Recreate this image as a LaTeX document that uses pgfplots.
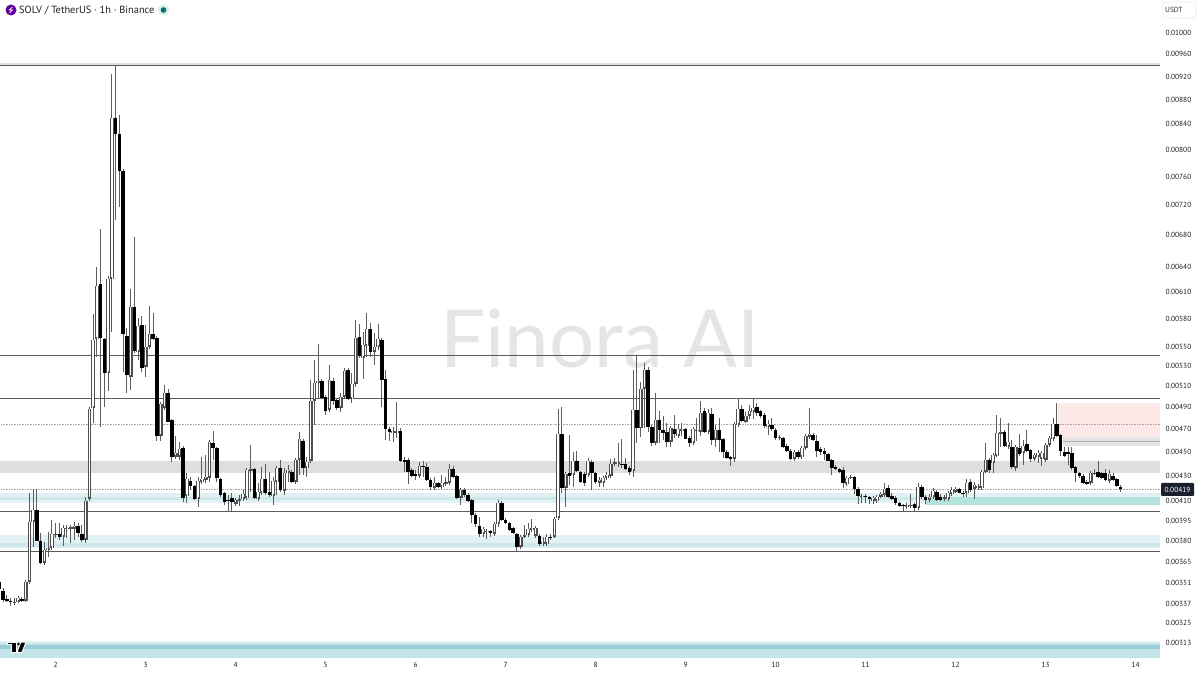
\documentclass[border=0pt]{standalone}
\usepackage{fontspec}
\setmainfont{PT Sans}
\newfontfamily\wmfont{Lato}
\usepackage{xcolor}
\usepackage{pgfplots}
\usepackage{pgfplotstable}
\pgfplotsset{compat=1.18}

\definecolor{wick}{HTML}{5E5E5E}
\definecolor{edge}{HTML}{505050}
\definecolor{lvl}{HTML}{5A5A5A}
\definecolor{dots}{HTML}{A8A8A8}
\definecolor{zoneGray}{HTML}{DEDEE0}
\definecolor{zoneA}{HTML}{E2F1F3}
\definecolor{zoneB}{HTML}{CDE7EB}
\definecolor{zoneC}{HTML}{C4E4E9}
\definecolor{zoneD}{HTML}{98CFD7}
\definecolor{zoneE}{HTML}{DDF0F2}
\definecolor{zoneGreen}{HTML}{B4E2DC}
\definecolor{zonePink}{HTML}{FDE8E8}
\definecolor{zoneGrayB}{HTML}{E4E4E6}
\definecolor{tagDark}{HTML}{1A1F2E}
\definecolor{wmark}{HTML}{E5E5E5}

% hour index (0 = start of day 2), prices in 1e-5 USDT
\pgfplotstableread{
x o h l c
-15 351 352 344 346
-14 345 347 338 339
-13 339.7 342.5 337.5 338.5
-12 338.7 340.4 335 337.6
-11 336.8 340.4 335.5 338
-10 338 341.5 337.5 340.2
-9 339.6 341 338 338.7
-8 338.7 351.5 338 350.9
-7 350.8 415.7 350.5 393.6
-6 393.6 418.9 375 402.5
-5 402.5 418.9 379 379.6
-4 379.6 385.5 363 363.9
-3 364 378.9 362.4 373
-2 373 386.2 368.3 374.2
-1 374.4 394.9 374 384.6
0 384 392.7 381.6 384.6
1 384.6 392.7 380 382.6
2 382 391.2 375.8 388.8
3 388 391.2 381.6 388.8
4 388.5 391.2 378.2 389.5
5 388.5 393.6 380 390.7
6 390 392.7 382.6 385.5
7 384.6 391.2 378.9 380.1
8 380.1 412.3 378.2 409.7
9 410.8 488.5 410.2 487.8
10 489 584.5 475 556.3
11 557 639.2 538.9 616.5
12 618.5 687.2 471.7 558.8
13 557 558.4 490 522
14 522.7 628.4 504.8 624.4
15 624.4 923.3 565 848.5
16 848.5 937.4 699 823.5
17 823.5 853.8 717 768
18 768 770 523.7 562.7
19 560.4 569.2 503 520.4
20 518.8 613 505.8 592.6
21 592.6 677 542.7 545
22 544 580 535.5 571.6
23 572.4 582 523 527
24 528.7 572.4 518.7 548.4
25 548.7 593.5 548 562.7
26 562.7 586 556.3 557.4
27 558.8 560 459 463.6
28 463.6 493.4 459 492.5
29 488.5 510.6 487 503.2
30 503.2 506.8 476 476.2
31 477.4 478.6 441 445
32 445 463.6 444 448.4
33 445.5 458.3 442.7 452
34 453 454.6 408.9 411.5
35 413.4 431.8 407.9 426.7
36 425.3 428.5 418.1 421.3
37 421.3 422 410.2 410.7
38 410.7 428.5 404.8 425.3
39 424.7 445.5 423.7 426.7
40 426 447 423.7 428.8
41 428 459.8 424.7 458.3
42 457.5 467.8 442.7 452.7
43 452.7 453.8 424.7 427.5
44 426.7 427.3 412.6 414.1
45 415.5 416.8 406.3 408.4
46 410 414 401.2 409.4
47 411.5 415.5 402 408.9
48 406.9 411.5 405.8 410.2
49 409.4 414 405.8 410.7
50 410.7 418.1 410.2 414.7
51 411.5 435 410.6 434.3
52 433.5 455.4 416.8 434.9
53 434.9 435.5 411 411.5
54 411 423.7 410.2 416.8
55 416 437 414.1 426.7
56 426.7 439.3 414.1 415.5
57 416.8 433 412.8 414.1
58 413.4 428.8 406.3 425.5
59 424.7 437.7 414.1 436
60 436 442.7 416.8 418.1
61 417.5 435.7 414.1 432
62 432 438.5 424.7 434.3
63 432.7 434.3 423.7 424.7
64 424.2 444 422.9 442.7
65 442.7 466.6 430.2 460.4
66 459.2 460.7 430.2 436.2
67 436.2 445.5 428.8 441.3
68 442 515.5 441.3 495.3
69 495.5 535.5 473.2 512.2
70 512.2 552 497 514.5
71 514.5 516.5 497 498.4
72 499.3 501 482.3 486.2
73 487 530.4 486 515.5
74 514.5 517.5 491.5 495.3
75 496.2 498 487 488.5
76 488.5 502.6 485.3 498.8
77 498.8 527 498 524.7
78 525.4 527.4 496.2 497
79 497 522 493 511.2
80 511.2 577.9 508.7 558
81 559.2 573.4 537.6 539
82 537.9 565 516.5 551
83 550.3 586 538.3 568
84 568 575 538.3 544
85 543.4 563.7 530.4 549.3
86 548.6 573.4 545.8 557
87 556.3 558.4 489.7 515.5
88 516.2 525.4 459.8 469.3
89 469.3 471.7 459.2 467.2
90 465.8 471.7 458.3 467.8
91 465.8 494.6 461.5 468
92 467.8 470.5 441 442
93 442.7 445.5 433 441.3
94 442.7 444 422.9 433
95 434.3 435.7 428.5 429.4
96 431 434.3 426.1 429.4
97 429.4 441.3 428.8 437.7
98 437.7 442 428.8 436.6
99 437 440 425.3 426.1
100 426.1 427.7 418.1 420.3
101 420 428.3 418.1 423.4
102 423.4 424.7 419.4 420.7
103 420.7 430.2 420 423.9
104 423.2 428.5 421.3 424.3
105 423.4 439.3 422.9 435
106 435.4 437.7 428 428.8
107 429.4 430.2 411 411.5
108 411.5 418.9 406.3 418.1
109 418.1 419.7 412.8 414.1
110 414.1 415.5 408.7 409.7
111 410.2 411 392.9 398.7
112 398.7 400.4 389.9 391.7
113 390.7 397.4 382.6 384.6
114 384.4 389.9 382.6 388
115 385.6 387.5 380.8 386.5
116 386.5 387.5 382 385.5
117 384.6 392.9 383.8 392
118 391.7 410.2 389.9 408
119 407.6 409.4 394.2 394.9
120 394.9 396 391.7 392.4
121 392.4 393.4 386.8 387.5
122 388.8 389.7 384.8 385.5
123 384.6 385.3 371.8 374.9
124 375.3 383.8 374.2 382.6
125 382.6 391.2 381.4 383.8
126 383.8 392.4 383 388
127 387.5 395.6 386.2 388.8
128 383.3 389.9 382.3 388.8
129 383.3 384.6 375.8 377
130 377.1 382.6 375.4 378.9
131 377.1 384.6 375.4 382.6
132 382.6 384.6 380.1 381.4
133 382.6 396.4 381.6 395.6
134 396.6 487.8 395.6 465
135 465 489.4 415.7 419.5
136 419.5 431.8 405 431
137 431.5 464.3 422 429.4
138 430.2 449 420.7 442
139 442 450 432.7 433.7
140 432.7 433.7 423.7 424.7
141 430.8 432.7 421.3 423.9
142 430.2 444 429.4 442
143 440.5 442.7 418.1 432
144 431.5 432.7 422.9 424.7
145 424 428.3 420.7 426.1
146 424 428.8 420.2 427.7
147 428 432.7 426.1 430.2
148 429.4 443.3 428.5 439
149 439 444 438.5 440.5
150 439.3 457.5 437 440.5
151 439.3 460.7 435.7 438.5
152 439.3 444.6 434.3 435
153 435.7 437.7 430.2 433
154 433.7 525.4 428.5 487
155 487 539.9 457.5 470
156 470 513.8 462.7 506.5
157 506.5 532.7 470.5 525.4
158 525.4 528.7 467 471
159 471 473.2 454.6 457.5
160 456.9 502.6 456 477.7
161 477.7 486.3 457.5 468.7
162 468.7 481.3 459.8 466.3
163 467.2 475.3 454 458.3
164 458.3 472 453.5 470.2
165 469.3 482.3 461.3 465.1
166 463.4 473.8 462.2 469.3
167 468 474.7 463.4 469.3
168 469.3 470.2 460.4 460.7
169 461.8 463.4 454 457.5
170 457 471 456.4 469.3
171 467.8 479.2 459.2 468.7
172 467.2 495.5 463.4 484.4
173 486 488.5 466 466.6
174 466.6 487.5 466 483.8
175 483.2 488.5 455.5 459.8
176 459.8 473.2 453.5 468.7
177 468.7 479.2 449.7 459.8
178 460.4 461.5 444 449
179 449.7 451.2 443.1 444.1
180 445 446 437.7 443.3
181 443.3 474.6 441.3 473.7
182 473.2 496.9 471 487.5
183 487.5 491.5 476 477
184 476.2 485 475.3 481.6
185 481.3 491.5 478.6 486
186 485.3 496.9 478.3 488.5
187 489.4 493 481.3 484.4
188 486 487 479.5 481.6
189 482.3 484.1 470.5 472
190 471 477.7 464.3 473.8
191 473.5 479.2 467.8 469.3
192 468.7 470.5 459.8 461.3
193 461.3 464.3 459.8 462.7
194 461.3 462.4 452.5 453.5
195 454.6 456.4 449.5 450.3
196 450.3 451.6 442.7 443.5
197 443.5 450.3 442.7 449.3
198 449.3 450.8 443.5 445.5
199 445 454.6 444 453
200 452.7 464.5 451.8 463.4
201 462.2 488.5 461.3 465
202 463.9 465.8 459 459.8
203 459.2 464.3 445.5 450.6
204 451.8 453.8 447 449.7
205 450.3 452.7 442.7 447.8
206 447.5 448.7 441.4 442
207 442.7 443.5 430.2 436.2
208 437 438 434.3 434.9
209 434.9 436 431.4 432.4
210 434.3 437 419.4 423.4
211 422.7 428.8 422 428
212 428.3 429.4 427.3 428.8
213 428.8 429.4 415 418.6
214 418.9 420.3 407.1 413.4
215 412.4 414.9 407.6 413.4
216 413.4 414.9 408.1 412.4
217 412.3 413.4 407.1 410.7
218 409.4 412.8 407.1 411.5
219 409.7 414.1 408.1 412.8
220 412.8 416.8 411.7 414.9
221 414.1 423.9 413.4 418.9
222 419.5 422 411.7 412.8
223 413.4 415.5 409.8 411
224 412 413 406.3 407.6
225 407.6 408.9 405 405.8
226 406.3 407.3 401.2 405.3
227 405 408.1 404.3 406.3
228 405.3 414.9 404.3 406.3
229 406.9 407.9 402 403.8
230 403.8 423.9 402.5 420.2
231 420.5 422 411 412.8
232 412.3 414.1 407.1 410.2
233 410.2 414.9 409.4 412.8
234 412.3 419.4 411 417.3
235 416.8 418.1 409.4 410.2
236 412.8 414.9 409.4 410.2
237 411.2 414.1 410.2 412.3
238 411.2 417.3 410.2 415.5
239 415 420.3 414.1 418.1
240 416.8 420.7 416 418.6
241 418.6 419.7 415.3 416
242 416 417.3 412.3 415
243 415.5 426.7 412.3 423.9
244 424.7 426.7 416.5 418.1
245 418.6 424.5 410.7 422
246 419.5 422.9 418.5 421.3
247 419.5 434.3 418.5 433
248 433 457.5 432 442.7
249 442.7 444 432 434.3
250 440 448.2 432 447
251 446.4 482.3 446 465.8
252 465 479.2 454 467.2
253 467.2 468.7 453.5 454.6
254 454 475.3 453 458.3
255 453.5 459.8 434.9 436.6
256 435.7 454.6 433.7 453.5
257 453 465 446 447.8
258 448.4 459.8 438.5 454.6
259 456.4 468.7 449 450.3
260 451.2 452 441.3 443.3
261 443.5 448.7 442.7 447
262 445.5 451.2 440 448.4
263 443.5 449.5 437.7 448.4
264 442.7 457.2 440.5 455.5
265 455.5 462.4 454.6 461.3
266 460.4 479.2 459.8 473.8
267 473.8 493 462.4 463.4
268 464.3 465 446 450.6
269 449.7 454 445 446.3
270 449.2 453.5 438.5 447.5
271 448.4 453.5 434.3 435.7
272 436.6 437.7 424.7 431.6
273 431.6 433 427.5 429.4
274 429.6 430.6 422.9 423.9
275 424.7 425.7 422 422.9
276 423.4 433.4 422.9 432
277 431.6 434.9 430.6 432
278 433 441.9 427.3 428.3
279 431.6 433 426.9 428
280 431.6 434.9 425.3 426.1
281 425.5 434.3 423.4 431
282 429.4 431.6 424.9 426.1
283 426.7 428 420.5 421.3
284 420.3 422 416.8 418.6
}\candles

\pgfplotsset{
  candlebar/.style={draw=none, mark=none, forget plot,
    error bars/y dir=both, error bars/y explicit, error bars/error mark=none},
  upOnly/.style={x filter/.expression={\thisrow{c}>=\thisrow{o} ? x : nan}},
  downOnly/.style={x filter/.expression={\thisrow{c}<\thisrow{o} ? x : nan}},
}

\begin{document}
\begin{tikzpicture}[x=1pt,y=1pt]
\useasboundingbox (0,0) rectangle (1200,675);
\fill[white] (0,0) rectangle (1200,675);

% watermark
\node[anchor=center, text=wmark, inner sep=0pt] at (600,336)
  {\wmfont\fontsize{80}{90}\selectfont Finora AI};

\begin{axis}[
  at={(0pt,17pt)}, anchor=south west,
  scale only axis, width=1160pt, height=658pt,
  xmin=-14.85, xmax=294.48,
  ymode=log, ymin=303.6, ymax=1062.8,
  axis line style={draw=none},
  major tick length=0pt,
  minor tick num=0,
  ytick pos=right, yticklabel pos=right,
  xtick={0,24,...,288},
  xticklabels={2,3,4,5,6,7,8,9,10,11,12,13,14},
  ytick={1000,960,920,880,840,800,760,720,680,640,610,580,550,530,510,490,470,450,430,410,395,380,365,351,337,325,313},
  yticklabels={0.01000,0.00960,0.00920,0.00880,0.00840,0.00800,0.00760,0.00720,0.00680,0.00640,0.00610,0.00580,0.00550,0.00530,0.00510,0.00490,0.00470,0.00450,0.00430,0.00410,0.00395,0.00380,0.00365,0.00351,0.00337,0.00325,0.00313},
  yticklabel style={font=\fontsize{7.4}{8}\selectfont, anchor=west, xshift=2pt, yshift=-0.7pt, text=black!88},
  xticklabel style={font=\fontsize{7.4}{8}\selectfont, anchor=center, yshift=-7pt, text=black!88},
]

% zones
\addplot[draw=none, fill=zoneGray] coordinates {(-15,441.8)(295,441.8)(295,431.8)(-15,431.8)};
\addplot[draw=none, fill=zoneA] coordinates {(-15,415.7)(295,415.7)(295,407.5)(-15,407.5)};
\addplot[draw=none, fill=zoneB] coordinates {(-15,412.8)(295,412.8)(295,410.2)(-15,410.2)};
\addplot[draw=none, fill=zoneA] coordinates {(-15,383.8)(295,383.8)(295,374.4)(-15,374.4)};
\addplot[draw=none, fill=zoneB] coordinates {(-15,377.9)(295,377.9)(295,374.8)(-15,374.8)};
\addplot[draw=none, fill=zoneE] coordinates {(-15,313.8)(295,313.8)(295,312.6)(-15,312.6)};
\addplot[draw=none, fill=zoneC] coordinates {(-15,312.6)(295,312.6)(295,303.6)(-15,303.6)};
\addplot[draw=none, fill=zoneD] coordinates {(-15,311.2)(295,311.2)(295,308.7)(-15,308.7)};
\addplot[draw=none, fill=zoneGreen] coordinates {(231.8,412.3)(295,412.3)(295,406.3)(231.8,406.3)};
\addplot[draw=none, fill=zonePink] coordinates {(267.3,493.4)(295,493.4)(295,462.2)(267.3,462.2)};
\addplot[draw=none, fill=zoneGrayB] coordinates {(268.5,462.2)(295,462.2)(295,454.6)(268.5,454.6)};
\addplot[gray!60, line width=0.6pt] coordinates {(268.5,458.3)(295,458.3)};
\addplot[draw=none, fill=zoneGray] coordinates {(-15,942.7)(295,942.7)(295,937.8)(-15,937.8)};

% levels
\addplot[lvl, line width=1pt] coordinates {(-15,937.8)(295,937.8)};
\addplot[lvl, line width=1pt] coordinates {(-15,539.6)(295,539.6)};
\addplot[lvl, line width=1pt] coordinates {(-15,497.2)(295,497.2)};
\addplot[lvl, line width=1pt] coordinates {(-15,401.4)(295,401.4)};
\addplot[lvl, line width=1pt] coordinates {(-15,371.6)(295,371.6)};
\addplot[dots, line width=0.6pt, densely dotted] coordinates {(-15,473.7)(295,473.7)};
\addplot[dots, line width=0.6pt, densely dotted] coordinates {(-15,418.5)(295,418.5)};

% wicks
\addplot[candlebar, error bars/error bar style={draw=wick, line width=1.1pt}]
  table[x=x, y=h, y error plus expr=0, y error minus expr=\thisrow{h}-\thisrow{l}] {\candles};

% up candles, hollow
\addplot[candlebar, upOnly, error bars/error bar style={draw=edge, line width=3.8pt}]
  table[x=x, y=c, y error plus expr=0, y error minus expr=\thisrow{c}-\thisrow{o}] {\candles};
\addplot[candlebar, upOnly, error bars/error mark=-,
    error bars/error bar style={draw=white, line width=1.5pt},
    error bars/error mark options={draw=edge, line width=0.9pt, mark size=1.9pt}]
  table[x=x, y=c, y error plus expr=0, y error minus expr=\thisrow{c}-\thisrow{o}] {\candles};

% down candles
\addplot[candlebar, downOnly, error bars/error bar style={draw=black, line width=3.4pt}]
  table[x=x, y=o, y error plus expr=0, y error minus expr=\thisrow{o}-\thisrow{c}] {\candles};

\end{axis}

% header
\fill[violet!75!blue] (11,665) circle (5.5);
\draw[white, line width=0.7pt] (12.5,668) -- (9.5,665) -- (12.5,665) -- (9.5,662);
\node[anchor=base west, inner sep=0pt, text=black!88] at (19,661)
  {\fontsize{10.4}{12}\selectfont SOLV / TetherUS · 1h · Binance};
\fill[teal!15] (163.5,665) circle (5.5);
\fill[teal!90!black] (163.5,665) circle (2.8);

% currency box
\draw[black!8, line width=0.7pt, rounded corners=2pt] (1163,657) rectangle (1196,673);
\node[anchor=base west, inner sep=0pt, text=black!80] at (1165,662)
  {\fontsize{7.4}{8}\selectfont USDT};

% last price tag
\fill[tagDark, rounded corners=1pt] (1161,179) rectangle (1194,192);
\node[text=white, inner sep=0pt] at (1177.5,185.5) {\fontsize{7.4}{8}\selectfont 0.00419};

% logo
\begin{scope}[shift={(0,675)}, y=-1pt]
  \path[fill=black, draw=white, line width=1pt, line join=round]
    (7.3,642.2) -- (16,642.2) -- (16,652.3) -- (11.7,652.3) -- (11.7,645) -- (7.3,645) -- cycle;
  \path[fill=black, draw=white, line width=1pt, line join=round]
    (20.7,642.2) -- (26,642.2) -- (22,652.3) -- (17,652.3) -- cycle;
  \fill[black] (18.4,644) circle (1.4);
\end{scope}
\end{tikzpicture}
\end{document}
